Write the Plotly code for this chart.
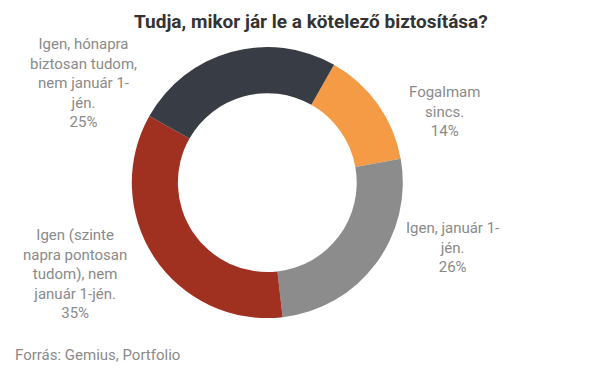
import plotly.graph_objects as go

# ---- data ----
labels = ["Fogalmam sincs.", "Igen, január 1-jén.",
          "Igen (szinte napra pontosan tudom), nem január 1-jén.",
          "Igen, hónapra biztosan tudom, nem január 1-jén."]
values = [14, 26, 35, 25]
colors = ["#F59B45", "#8C8C8C", "#A03121", "#383C45"]
# wrapped label lines as shown in the chart
label_lines = [
    ["Fogalmam", "sincs."],
    ["Igen, január 1-", "jén."],
    ["Igen (szinte", "napra pontosan", "tudom), nem", "január 1-jén."],
    ["Igen, hónapra", "biztosan tudom,", "nem január 1-", "jén."],
]
title = "Tudja, mikor jár le a kötelező biztosítása?"
source = "Forrás: Gemius, Portfolio"

W, H = 605, 378
cx, cy, r = 267.3, 182.6, 135.5

fig = go.Figure(go.Pie(
    labels=labels, values=values, sort=False, direction="clockwise",
    rotation=29.5, hole=0.66, textinfo="none", hoverinfo="label+percent",
    marker=dict(colors=colors, line=dict(width=0)),
    domain=dict(x=[(cx - r) / W, (cx + r) / W], y=[1 - (cy + r) / H, 1 - (cy - r) / H]),
    showlegend=False,
))

# label positions (pixels) for annotations
label_pos = [(444.6, 111), (452.5, 247), (75, 274), (83.5, 83.3)]
annotations = []
for lines, v, (x, y) in zip(label_lines, values, label_pos):
    annotations.append(dict(
        text="<br>".join(lines + [f"{v}%"]), x=x / W, y=1 - y / H,
        xref="paper", yref="paper", xanchor="center", yanchor="middle",
        align="center", showarrow=False,
        font=dict(family="Roboto", size=15, color="#8A8A8A")))
annotations.append(dict(
    text=f"<b>{title}</b>", x=310.5 / W, y=1 - 21.5 / H, xref="paper", yref="paper",
    xanchor="center", yanchor="middle", showarrow=False,
    font=dict(family="Roboto", size=19, color="#333333")))
annotations.append(dict(
    text=source, x=13 / W, y=1 - 355 / H, xref="paper", yref="paper",
    xanchor="left", yanchor="middle", showarrow=False,
    font=dict(family="Roboto", size=15, color="#8A8A8A")))

fig.update_layout(
    width=W, height=H, margin=dict(l=0, r=0, t=0, b=0),
    paper_bgcolor="white", plot_bgcolor="white",
    annotations=annotations,
)
fig.write_html("out.html", config={"displayModeBar": False},
               post_script="document.body.style.margin='0';")
